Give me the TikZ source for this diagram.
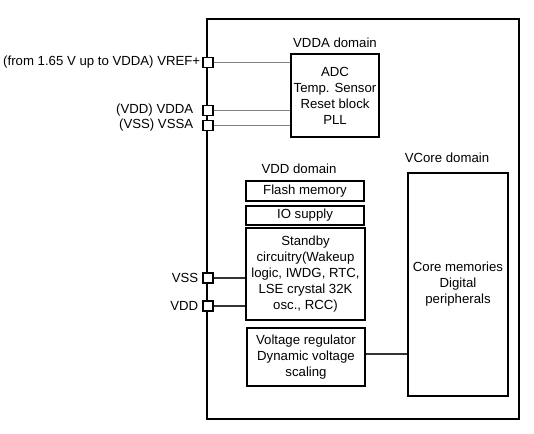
\documentclass[tikz,border=0pt]{standalone}
\usepackage{fontspec}
\setmainfont{Liberation Sans}
\usetikzlibrary{positioning}
\begin{document}
\begin{tikzpicture}[x=1pt,y=-1pt,
    font=\fontsize{13.2}{16}\selectfont,
    blk/.style={draw,line width=1.8pt,align=center,inner sep=0pt},
    pad/.style={draw,fill=white,line width=1.2pt,minimum size=10pt,inner sep=0pt},
    lbl/.style={inner sep=0pt},
    wire/.style={line width=1.2pt}]
    \useasboundingbox (0,0) rectangle (534,433);
    \draw[line width=1.3pt] (207,19) rectangle (519,419);

    % VDDA domain
    \node[lbl] (vddalbl) at (335,43) {VDDA domain};
    \node[blk,minimum width=88pt,minimum height=83pt] (vdda) at (335,95.5)
        {ADC\\Temp. Sensor\\Reset block\\PLL};

    % VDD domain
    \node[lbl] (vddlbl) at (299,169) {VDD domain};
    \node[blk,minimum width=118pt,minimum height=20pt] (flash) at (305,191) {Flash memory};
    \node[blk,minimum width=118pt,minimum height=19pt] (io) at (305,215.5) {IO supply};
    \node[blk,minimum width=119pt,minimum height=92pt] (stby) at (305.5,274)
        {Standby\\circuitry(Wakeup\\logic, IWDG, RTC,\\LSE crystal 32K\\osc., RCC)};
    \node[blk,minimum width=118pt,minimum height=58pt] (reg) at (306,357)
        {Voltage regulator\\Dynamic voltage\\scaling};

    % VCore domain
    \node[lbl] (vcorelbl) at (447,158) {VCore domain};
    \node[blk,minimum width=100pt,minimum height=223pt] (core) at (458,284.5)
        {Core memories\\Digital\\peripherals};

    % pins
    \node[pad] (pref) at (208,62.5) {};
    \node[pad] (pvdda) at (208,110.5) {};
    \node[pad] (pvssa) at (208,125.5) {};
    \node[pad] (pvss) at (208,278) {};
    \node[pad] (pvdd) at (208,306) {};

    \node[lbl,anchor=east] at ([xshift=-2pt]pref.west) {(from 1.65 V up to VDDA) VREF+};
    \node[lbl,anchor=east] at ([xshift=-9pt]pvdda.west) {(VDD) VDDA};
    \node[lbl,anchor=east] at ([xshift=-9pt]pvssa.west) {(VSS) VSSA};
    \node[lbl,anchor=east] at ([xshift=-4pt]pvss.west) {VSS};
    \node[lbl,anchor=east] at ([xshift=-4pt]pvdd.west) {VDD};

    \draw[wire,gray] (pref.east) -- (pref.east -| vdda.west);
    \draw[wire,gray] (pvdda.east) -- (pvdda.east -| vdda.west);
    \draw[wire,gray] (pvssa.east) -- (pvssa.east -| vdda.west);
    \draw[wire,black!80] (pvss.east) -- (pvss.east -| stby.west);
    \draw[wire,black!80] (pvdd.east) -- (pvdd.east -| stby.west);
    \draw[wire,black!80] ([yshift=3pt]reg.east) -- ([yshift=3pt]reg.east -| core.west);
\end{tikzpicture}
\end{document}
